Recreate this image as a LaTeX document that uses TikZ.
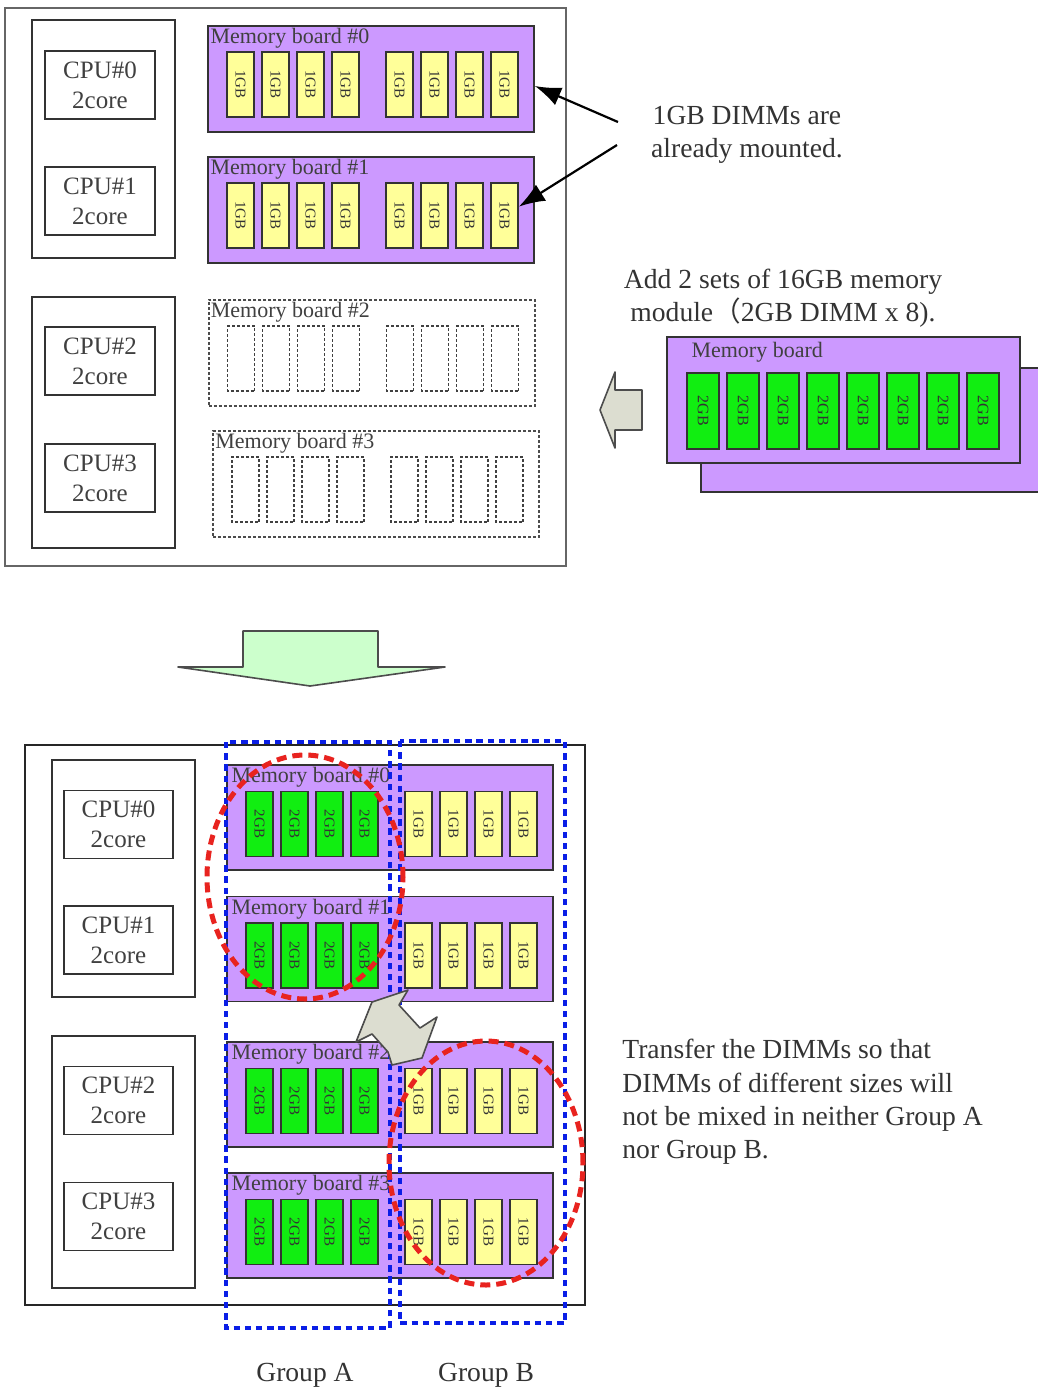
\documentclass[tikz,border=0pt]{standalone}
\usepackage{fontspec}
\setmainfont{Liberation Serif}
\newfontfamily\cjkfont{Noto Sans CJK SC}
\usetikzlibrary{arrows.meta,calc}

\definecolor{boardpurple}{HTML}{CC99FF}
\definecolor{dimmyellow}{HTML}{FFFF99}
\definecolor{dimmgreen}{HTML}{11EE11}
\definecolor{blockgray}{HTML}{DCDDD0}
\definecolor{blockgreen}{HTML}{CCFFCC}
\definecolor{groupblue}{HTML}{0A1EE6}
\definecolor{ringred}{HTML}{E8231F}
\definecolor{edgegray}{HTML}{333333}

% slot offsets on a memory board (from its left edge)
\newcommand\leftslots{1/33.5,2/68.5,3/103.5,4/138.5}
\newcommand\rightslots{5/192.5,6/227.5,7/262.5,8/297.5}

\tikzset{
  cpubox/.style={draw=edgegray, line width=0.9pt, minimum width=55pt, minimum height=34pt,
    align=center, font=\fontsize{12.5}{15}\selectfont, text=black!75},
  cpugroup/.style={draw=edgegray, line width=0.9pt},
  board/.style={draw=edgegray, fill=boardpurple, line width=0.9pt, minimum width=163pt,
    minimum height=53pt, inner sep=0pt},
  emptyboard/.style={draw=black!70, line width=1pt, dash pattern=on 1.5pt off 1pt,
    minimum width=163pt, minimum height=53pt, inner sep=0pt},
  boardlabel/.style={anchor=north west, inner sep=1.5pt, font=\fontsize{11}{13}\selectfont,
    text=black!75},
  dimm/.style={draw=edgegray, line width=0.8pt, rotate=-90, minimum width=32.5pt,
    minimum height=13.5pt, inner sep=0pt, font=\fontsize{7.5}{8}\selectfont, text=black!80},
  onegb/.style={dimm, fill=dimmyellow},
  twogb/.style={dimm, fill=dimmgreen},
  emptyslot/.style={dimm, draw=black!75, dash pattern=on 1.5pt off 1pt},
  note/.style={font=\fontsize{13.8}{16.6}\selectfont, text=black!80, inner sep=0pt},
  pointer/.style={-{Latex[length=13pt,width=9.5pt]}, line width=1.1pt},
  blockarrow/.style={draw=black!70, line width=0.8pt, line join=round},
  groupbox/.style={draw=groupblue, line width=2.4pt, dash pattern=on 3.2pt off 2.4pt},
  swapring/.style={draw=ringred, line width=2.5pt, dash pattern=on 5pt off 3pt}
}

\begin{document}
\begin{tikzpicture}[x=0.5pt,y=-0.5pt]
  \useasboundingbox (0,0) rectangle (1038,1389);
  \clip (0,0) rectangle (1038,1389);

  % ---------- before: system with 1GB DIMMs ----------
  \draw[line width=1.2pt, draw=black!60] (5,8) rectangle (566,566);

  % CPU groups
  \draw[cpugroup] (32,20) rectangle (175,258);
  \draw[cpugroup] (32,297) rectangle (175,548);
  \node[cpubox] (tc0) at (100,85) {CPU\#0\\2core};
  \node[cpubox] (tc1) at (100,201) {CPU\#1\\2core};
  \node[cpubox] (tc2) at (100,361) {CPU\#2\\2core};
  \node[cpubox] (tc3) at (100,478) {CPU\#3\\2core};

  % mounted memory boards
  \node[board] (mb0) at (371,79) {};
  \node[board] (mb1) at (371,210) {};
  \node[boardlabel] at (mb0.north west) {Memory board \#0};
  \node[boardlabel] at (mb1.north west) {Memory board \#1};
  \foreach \b in {mb0,mb1}{
    \foreach \i/\dx in \leftslots
      \node[onegb] (\b-\i) at ($(\b.north west)+(\dx,59.5)$) {1GB};
    \foreach \i/\dx in \rightslots
      \node[onegb] (\b-\i) at ($(\b.north west)+(\dx,59.5)$) {1GB};
  }

  % empty memory boards
  \node[emptyboard] (mb2) at (371.5,353) {};
  \node[emptyboard] (mb3) at (376,484) {};
  \node[boardlabel] at (mb2.north west) {Memory board \#2};
  \node[boardlabel] at (mb3.north west) {Memory board \#3};
  \foreach \b in {mb2,mb3}{
    \foreach \i/\dx in \leftslots
      \node[emptyslot] (\b-\i) at ($(\b.north west)+(\dx,59.5)$) {};
    \foreach \i/\dx in \rightslots
      \node[emptyslot] (\b-\i) at ($(\b.north west)+(\dx,59.5)$) {};
  }

  % note on the mounted DIMMs
  \node[note, align=center] (mounted) at (747,135) {1GB DIMMs are\\already mounted.};
  \coordinate (t0) at (618,122);
  \coordinate (t1) at (617,145);
  \draw[pointer] (t0) -- ($(mb0.east)+(0,7)$);
  \draw[pointer] (t1) -- ($(mb1-8.north)+(0,-9)$);

  % new memory modules
  \node[note, align=center] (addnote) at (783,298)
    {Add 2 sets of 16GB memory\\module{\cjkfont （}2GB DIMM x 8).};
  \node[board, minimum width=176pt, minimum height=62pt] (newback) at (877,430) {};
  \node[board, minimum width=176.5pt, minimum height=63pt] (newmod) at (843.5,400) {};
  \node[boardlabel] at ($(newmod.north west)+(22,3)$) {Memory board};
  \foreach \i in {0,...,7}
    \node[twogb, minimum width=38pt, minimum height=16pt, font=\fontsize{8}{9}\selectfont]
      (nm-\i) at (703+40*\i,411) {2GB};

  % insert arrow
  \draw[blockarrow, fill=blockgray] (600,410) -- (615,372) -- (615,390) -- (642,390)
    -- (642,430) -- (615,430) -- (615,448) -- cycle;

  % ---------- step arrow ----------
  \draw[blockarrow, fill=blockgreen] (243,631) -- (378,631) -- (378,667) -- (445,667)
    -- (310,686) -- (178,667) -- (243,667) -- cycle;

  % ---------- after: DIMMs sorted into groups ----------
  \draw[line width=1pt, draw=black!85] (25,745) rectangle (585,1305);

  % CPU groups
  \draw[cpugroup] (52,760) rectangle (195,997);
  \draw[cpugroup] (52,1036) rectangle (195,1288);
  \node[cpubox, minimum width=54.5pt] (bc0) at (118.5,824.5) {CPU\#0\\2core};
  \node[cpubox, minimum width=54.5pt] (bc1) at (118.5,940) {CPU\#1\\2core};
  \node[cpubox, minimum width=54.5pt] (bc2) at (118.5,1100.5) {CPU\#2\\2core};
  \node[cpubox, minimum width=54.5pt] (bc3) at (118.5,1216.5) {CPU\#3\\2core};

  % memory boards, 2GB left half, 1GB right half
  \node[board, minimum height=52.5pt] (nb0) at (390,817.5) {};
  \node[board, minimum height=52.5pt] (nb1) at (390,949) {};
  \node[board, minimum height=52.5pt] (nb2) at (390,1094.5) {};
  \node[board, minimum height=52.5pt] (nb3) at (390,1225.5) {};
  \foreach \b/\n in {nb0/0,nb1/1,nb2/2,nb3/3}{
    \node[boardlabel] at ($(\b.north west)+(2,0)$) {Memory board \#\n};
    \foreach \i/\dx in \leftslots
      \node[twogb] (\b-\i) at ($(\b.north west)+(\dx,60)$) {2GB};
    \foreach \i/\dx in \rightslots
      \node[onegb] (\b-\i) at ($(\b.north west)+(\dx,60)$) {1GB};
  }

  % groups
  \draw[groupbox] (226,742) rectangle (390,1328);
  \draw[groupbox] (400,741) rectangle (565,1323);
  \node[note] (grpA) at (305,1375) {Group A};
  \node[note] (grpB) at (486,1375) {Group B};

  % DIMMs to be swapped
  \draw[swapring] (305,877) ellipse [x radius=49pt, y radius=61pt];
  \draw[swapring] (486,1163) ellipse [x radius=48.5pt, y radius=61pt];

  % swap arrow
  \draw[blockarrow, fill=blockgray] (372,1002) -- (408,990) -- (399,1005) -- (420,1028)
    -- (437,1017) -- (422,1058) -- (392,1065) -- (388,1052) -- (372,1034) -- (356,1042) -- cycle;

  \node[note, align=left, anchor=west] (transfer) at (622,1102)
    {Transfer the DIMMs so that\\DIMMs of different sizes will\\not be mixed in neither Group A\\nor Group B.};
\end{tikzpicture}
\end{document}
